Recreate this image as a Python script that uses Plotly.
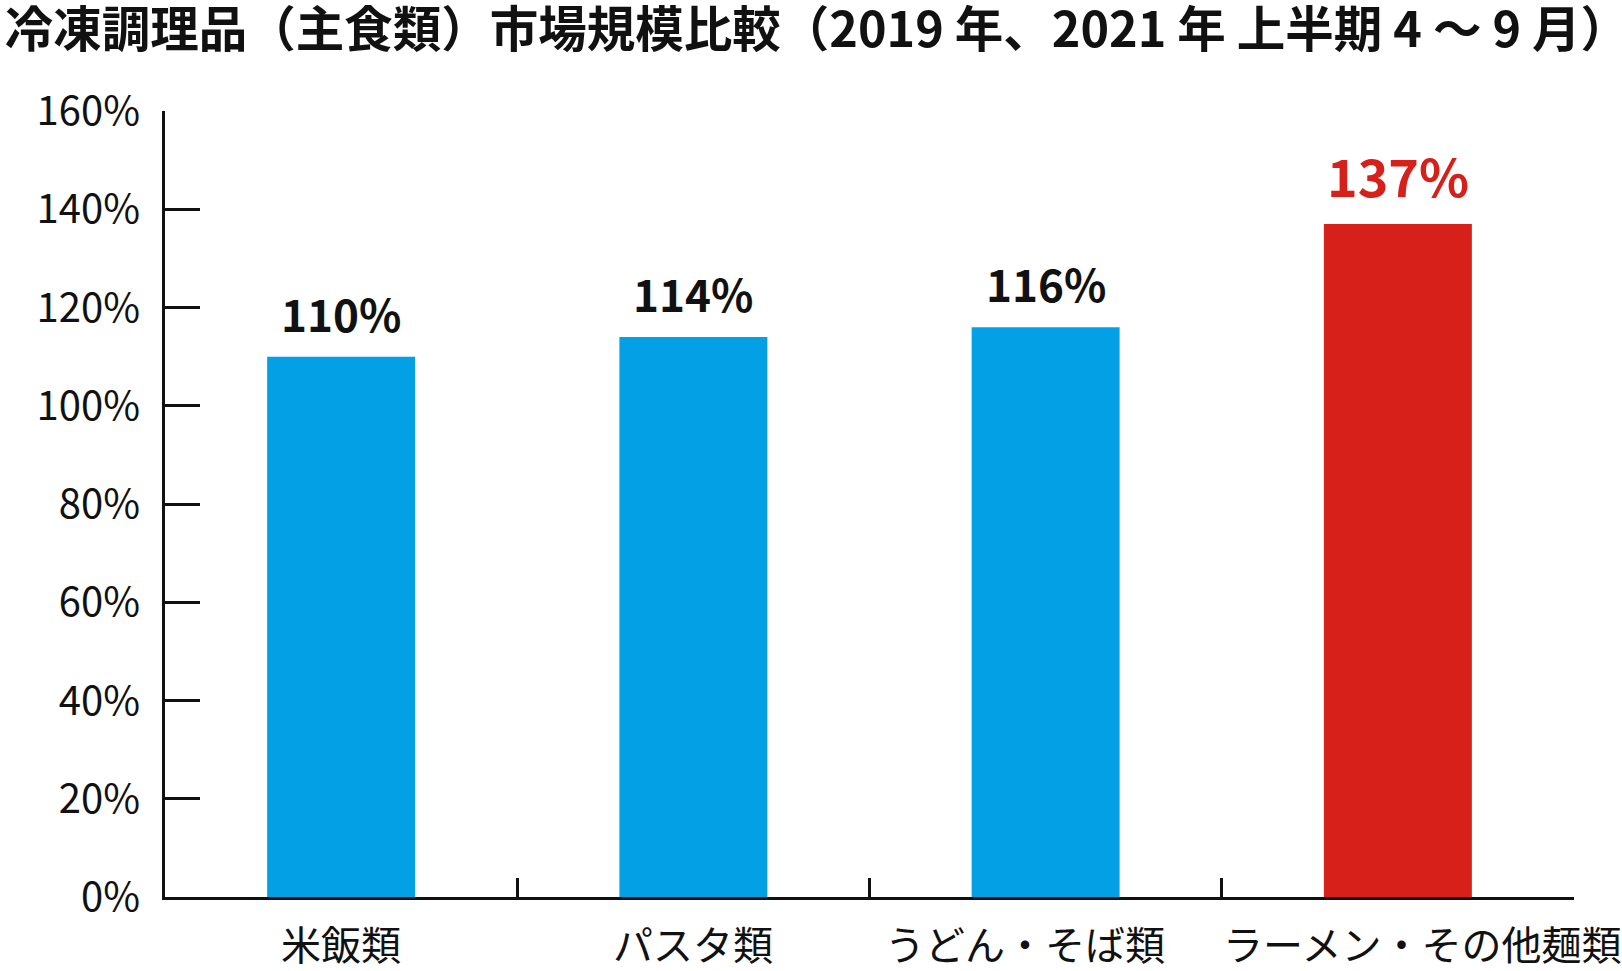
import plotly.graph_objects as go

categories = ["米飯類", "パスタ類", "うどん・そば類", "ラーメン・その他麺類"]
values = [110, 114, 116, 137]
bar_colors = ["#04A0E6", "#04A0E6", "#04A0E6", "#D7201A"]
label_colors = ["#111111", "#111111", "#111111", "#D7201A"]
label_sizes = [44, 44, 44, 52]
cat_label_shift = [0, 0, -21, 24]
y_tickvals = [0, 20, 40, 60, 80, 100, 120, 140, 160]
y_ticktext = [f"{v}%" for v in y_tickvals]
title_text = "冷凍調理品（主食類）市場規模比較（2019 年、2021 年 上半期 4 ～ 9 月）"

FONT = "Noto Sans CJK JP"

fig = go.Figure()
fig.add_trace(go.Bar(
    x=categories, y=values, marker=dict(color=bar_colors, line=dict(width=0)),
    width=0.42, hoverinfo="skip",
))

for c, v, col, sz in zip(categories, values, label_colors, label_sizes):
    fig.add_annotation(
        x=c, y=v, text=f"<b>{v}%</b>", showarrow=False,
        yanchor="bottom", yshift=10,
        font=dict(family=FONT, size=sz, color=col),
    )

for c, dx in zip(categories, cat_label_shift):
    fig.add_annotation(
        x=c, y=0, yref="paper", text=c, showarrow=False,
        yanchor="middle", yshift=-46, xshift=dx,
        font=dict(family=FONT, size=40, color="#111111"),
    )

fig.update_layout(
    width=1622, height=971,
    margin=dict(l=165, r=48, t=111, b=74),
    paper_bgcolor="white", plot_bgcolor="white",
    showlegend=False,
    title=dict(
        text=f"<b>{title_text}</b>", x=0.003, xanchor="left",
        y=0.969, yanchor="middle",
        font=dict(family=FONT, size=48.5, color="#111111"),
    ),
    font=dict(family=FONT, color="#111111"),
)

fig.update_xaxes(
    type="category", categoryorder="array", categoryarray=categories,
    range=[-0.5, len(categories) - 0.5],
    showline=True, linewidth=3, linecolor="#111111",
    ticks="inside", ticklen=19, tickwidth=3, tickcolor="#111111",
    tickson="boundaries", showgrid=False, zeroline=False,
    showticklabels=False, automargin=False,
)
fig.update_yaxes(
    range=[0, 160], showline=True, linewidth=3, linecolor="#111111",
    ticks="inside", ticklen=35, tickwidth=3, tickcolor="#111111",
    tickvals=y_tickvals, ticktext=y_ticktext, showgrid=False, zeroline=False,
    tickfont=dict(family=FONT, size=40, color="#111111"),
    automargin=False,
    ticklabelstandoff=14,
)

fig.write_html(
    "out.html",
    config={"displayModeBar": False},
    post_script="document.body.style.margin='0';document.body.style.overflow='hidden';",
)
